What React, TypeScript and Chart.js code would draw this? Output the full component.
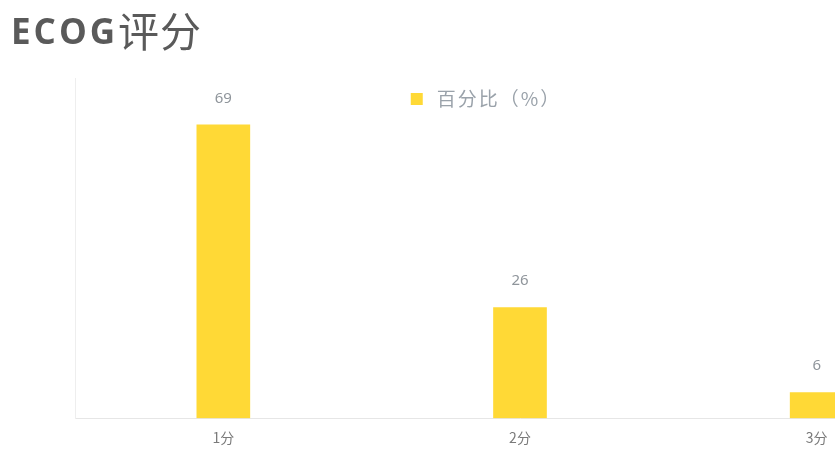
import React, { useEffect, useRef } from "react";
import { Chart, registerables } from "chart.js";

Chart.register(...registerables);

const categories = ["1分", "2分", "3分"];
const percentValues = [69, 26, 6];
const seriesName = "百分比（%）";
const titleMain = "ECOG";
const titleSuffix = "评分";

const BAR_COLOR = "#FFD936";

const overlayPlugin = {
  id: "overlay",
  afterDatasetsDraw(chart: any) {
    const ctx = chart.ctx;
    const meta = chart.getDatasetMeta(0);
    ctx.save();
    ctx.fillStyle = "#8f959b";
    ctx.font = "15px 'Noto Sans', 'Noto Sans CJK SC', sans-serif";
    ctx.textAlign = "center";
    ctx.textBaseline = "bottom";
    meta.data.forEach((bar: any, i: number) => {
      ctx.fillText(String(percentValues[i]), bar.x, bar.y - 19);
    });
    ctx.restore();
  },
  afterDraw(chart: any) {
    const ctx = chart.ctx;
    ctx.save();
    // title
    ctx.textBaseline = "alphabetic";
    ctx.textAlign = "left";
    ctx.fillStyle = "#5a5a5a";
    ctx.font = "bold 35px 'Open Sans', 'Noto Sans', sans-serif";
    (ctx as any).letterSpacing = "3px";
    const x0 = 11;
    const yb = 44;
    ctx.fillText(titleMain, x0, yb);
    const w = ctx.measureText(titleMain).width;
    (ctx as any).letterSpacing = "1px";
    ctx.font = "41px 'Noto Sans CJK SC', sans-serif";
    ctx.fillText(titleSuffix, x0 + w, yb + 3);
    (ctx as any).letterSpacing = "0px";
    // legend
    const cx = chart.width / 2;
    ctx.font = "19px 'Noto Sans CJK SC', sans-serif";
    (ctx as any).letterSpacing = "2px";
    const tw = ctx.measureText(seriesName).width;
    const box = 12;
    const gap = 14;
    const total = box + gap + tw;
    const lx = cx - total / 2;
    const ly = 99;
    ctx.fillStyle = BAR_COLOR;
    ctx.fillRect(lx, ly - box / 2, box, box);
    ctx.fillStyle = "#9aa2aa";
    ctx.textBaseline = "middle";
    ctx.fillText(seriesName, lx + box + gap, ly);
    ctx.restore();
  },
};

export default function App() {
  const ref = useRef<HTMLCanvasElement | null>(null);
  useEffect(() => {
    if (!ref.current) return;
    const chart = new Chart(ref.current, {
      type: "bar",
      data: {
        labels: categories,
        datasets: [
          {
            label: seriesName,
            data: percentValues,
            backgroundColor: BAR_COLOR,
            barThickness: 53,
          },
        ],
      },
      options: {
        animation: false,
        responsive: false,
        maintainAspectRatio: false,
        layout: { padding: { left: 67, top: 78, right: 7, bottom: 6 } },
        plugins: {
          legend: { display: false },
          title: { display: false },
          tooltip: { enabled: false },
        },
        scales: {
          x: {
            grid: { display: false },
            border: { display: true, color: "#e6e6e6" },
            ticks: {
              color: "#7a7a7a",
              padding: 3,
              font: { size: 14, family: "'Noto Sans CJK SC', sans-serif" },
            },
          },
          y: {
            min: 0,
            max: 80,
            grid: { display: false },
            border: { display: true, color: "#eeeeee", dash: [2, 3] },
            ticks: { display: false },
          },
        },
      },
      plugins: [overlayPlugin],
    });
    return () => chart.destroy();
  }, []);
  return (
    <div
      style={{
        position: "fixed",
        left: 0,
        top: 0,
        width: 835,
        height: 455,
        overflow: "hidden",
        background: "#fff",
      }}
    >
      <canvas ref={ref} width={972} height={455} style={{ display: "block" }} />
    </div>
  );
}
